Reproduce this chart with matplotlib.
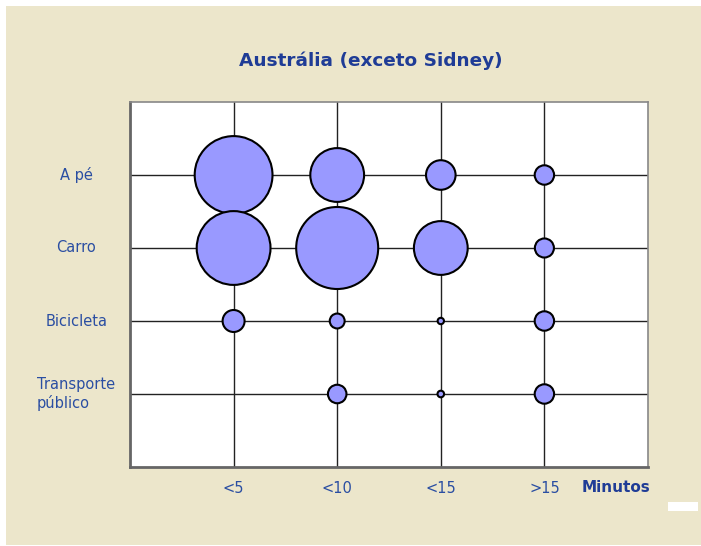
import matplotlib.pyplot as plt
import numpy as np
from matplotlib.patches import Rectangle
from matplotlib.transforms import blended_transform_factory


OUTPUT_PLOT = "out.png"

# categories
modos = ["A pé", "Carro", "Bicicleta", "Transporte\npúblico"]
tempos = ["<5", "<10", "<15", ">15"]

# bubble values (relative share, area-proportional), one list per mode
a_pe = [90, 43, 13, 5.6]
carro = [81, 100, 43, 5.4]
bicicleta = [7.2, 3.3, 0.6, 5.6]
transporte = [0, 5.1, 0.65, 5.6]

BG = "#ece6cb"
BUBBLE = "#9999ff"
TITLE_BLUE = "#1f3c96"
LABEL_BLUE = "#2a4ea2"


def main() -> None:
    plt.rcParams["font.family"] = ["DejaVu Sans"]

    fig = plt.figure(figsize=(7.01, 5.46), dpi=100, facecolor="white")
    W, H = 701, 546

    # beige panel behind everything
    fig.patches.append(
        Rectangle((6 / W, 1 / H), 695 / W, 539 / H, transform=fig.transFigure,
                  facecolor=BG, edgecolor="none", zorder=-10)
    )
    # small white block bottom right
    fig.patches.append(
        Rectangle((668 / W, (H - 511) / H), 30 / W, 9 / H, transform=fig.transFigure,
                  facecolor="white", edgecolor="none", zorder=-5)
    )

    ax = fig.add_axes([130 / W, 79 / H, 518 / W, 365 / H])
    ax.set_zorder(2)
    ax.set_facecolor("white")
    ax.set_xlim(0, 5)
    ax.set_ylim(5, 0)

    xpos = np.arange(1, len(tempos) + 1)
    ypos = np.arange(1, len(modos) + 1)

    for y in ypos:
        ax.axhline(y, color="#222222", lw=1.0, zorder=1)
    for x in xpos:
        ax.axvline(x, color="#222222", lw=1.0, zorder=1)

    rows = [a_pe, carro, bicicleta, transporte]
    scale = 34.86  # points^2 per unit value
    for y, row in zip(ypos, rows):
        vals = np.array(row, dtype=float)
        keep = vals > 0
        ax.scatter(xpos[keep], np.full(keep.sum(), y), s=vals[keep] * scale,
                   facecolor=BUBBLE, edgecolor="black", linewidth=1.5, zorder=3)

    ax.set_xticks(xpos)
    ax.set_xticklabels(tempos, color=LABEL_BLUE, fontsize=10.5)
    ax.tick_params(axis="x", length=0, pad=10)
    ax.set_yticks([])

    trans = blended_transform_factory(ax.transAxes, ax.transData)
    for y, label in zip(ypos, modos):
        ax.text(-0.104, y, label, transform=trans, ha="center", va="center",
                color=LABEL_BLUE, fontsize=10.5, multialignment="left",
                linespacing=1.3)

    for side in ["top", "right"]:
        ax.spines[side].set_color("#888888")
        ax.spines[side].set_linewidth(1.2)
    for side in ["left", "bottom"]:
        ax.spines[side].set_color("#666666")
        ax.spines[side].set_linewidth(2)

    fig.text(371 / W, 1 - 61 / H, "Austrália (exceto Sidney)", ha="center",
             va="center", fontsize=13.3, fontweight="bold", color=TITLE_BLUE)
    fig.text(616 / W, 1 - 488 / H, "Minutos", ha="center", va="center",
             fontsize=11, fontweight="bold", color=TITLE_BLUE)

    fig.savefig(OUTPUT_PLOT, dpi=100, facecolor=fig.get_facecolor())
    plt.close(fig)


if __name__ == "__main__":
    main()
